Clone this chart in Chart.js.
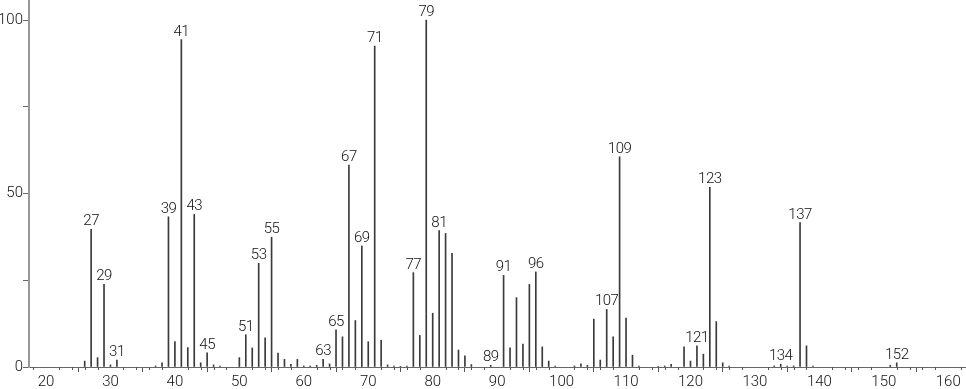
<!DOCTYPE html>
<html>
<head>
<meta charset="utf-8">
<script src="https://cdn.jsdelivr.net/npm/chart.js@4.4.0/dist/chart.umd.min.js"></script>
<style>
  html, body { margin: 0; padding: 0; background: #fff; }
  #wrap { width: 966px; height: 389px; }
</style>
</head>
<body>
<div id="wrap"><canvas id="spec" width="966" height="389"></canvas></div>
<script>
// m/z values and relative intensities
var mz = [26, 27, 28, 29, 30, 31, 37, 38, 39, 40, 41, 42, 43, 44, 45, 46, 47,
  50, 51, 52, 53, 54, 55, 56, 57, 58, 59, 60, 61, 62, 63, 64, 65, 66, 67, 68, 69,
  70, 71, 72, 73, 74, 75, 76, 77, 78, 79, 80, 81, 82, 83, 84, 85, 86, 89,
  91, 92, 93, 94, 95, 96, 97, 98, 99, 102, 103, 104, 105, 106, 107, 108, 109,
  110, 111, 112, 115, 116, 117, 119, 120, 121, 122, 123, 124, 125, 126,
  133, 134, 135, 136, 137, 138, 139, 151, 152];
var intensity = [1.7, 39.7, 2.7, 23.8, 0.6, 2.0, 0.3, 1.2, 43.3, 7.3, 94.4, 5.6, 44.0, 1.2, 4.1, 0.6, 0.3,
  2.7, 9.3, 5.5, 29.9, 8.4, 37.4, 4.0, 2.2, 0.8, 2.2, 0.3, 0.3, 0.5, 2.2, 0.9, 10.7, 8.7, 58.2, 13.4, 34.9,
  7.3, 92.5, 7.7, 0.6, 0.3, 0.2, 0.3, 27.2, 9.1, 100, 15.5, 39.3, 38.5, 32.8, 4.9, 3.2, 0.7, 0.5,
  26.4, 5.5, 20.0, 6.6, 23.8, 27.4, 5.8, 1.7, 0.3, 0.3, 0.9, 0.5, 13.8, 2.0, 16.6, 8.7, 60.6,
  14.1, 3.4, 0.3, 0.2, 0.3, 0.8, 5.8, 1.7, 6.1, 3.7, 51.8, 13.1, 1.2, 0.3,
  0.3, 0.8, 0.3, 0.3, 41.6, 6.1, 0.3, 0.5, 1.2];
// peaks that carry an m/z label
var labeled = [27, 29, 31, 39, 41, 43, 45, 51, 53, 55, 63, 65, 67, 69, 71, 77, 79, 81,
  89, 91, 96, 107, 109, 121, 123, 134, 137, 152];

var X_MIN = 17.36, X_MAX = 162.75;
var Y_MAX = 105.8;
var FONT = 'Roboto, "Noto Sans", sans-serif';

var points = [];
for( var i = 0; i < mz.length; i ++ ){
  points.push( { x: mz[i], y: intensity[i] } );
}

var peakLabels = {
  id: 'peakLabels',
  afterDatasetsDraw: function( chart ){
    var ctx = chart.ctx;
    var xs = chart.scales.x, ys = chart.scales.y;
    ctx.save();
    ctx.font = '300 15px ' + FONT;
    ctx.letterSpacing = '-0.5px';
    ctx.fillStyle = '#111';
    ctx.textAlign = 'center';
    ctx.textBaseline = 'alphabetic';
    labeled.forEach( function( m ){
      var idx = mz.indexOf( m );
      if( idx < 0 ) return;
      var px = xs.getPixelForValue( m );
      var py = ys.getPixelForValue( intensity[idx] );
      ctx.fillText( '' + m, px, py - 4 );
    });
    ctx.letterSpacing = '0px';
    // minor ticks every 2 units on the m/z axis
    ctx.strokeStyle = '#555';
    ctx.lineWidth = 1;
    ctx.beginPath();
    for( var v = 18; v <= 162; v += 2 ){
      if( v % 10 == 0 ) continue;
      var tx = Math.round( xs.getPixelForValue( v ) ) + 0.5;
      ctx.moveTo( tx, xs.top );
      ctx.lineTo( tx, xs.top + 3 );
    }
    ctx.stroke();
    ctx.restore();
  }
};

var chart = new Chart( document.getElementById( 'spec' ), {
  type: 'bar',
  data: {
    datasets: [{
      data: points,
      backgroundColor: '#3a3a3a',
      borderWidth: 0,
      barThickness: 1,
      grouped: false
    }]
  },
  options: {
    responsive: false,
    animation: false,
    events: [],
    layout: { padding: 0 },
    plugins: { legend: { display: false }, tooltip: { enabled: false } },
    scales: {
      x: {
        type: 'linear',
        min: X_MIN,
        max: X_MAX,
        offset: false,
        afterFit: function( s ){ s.height = 22; s.paddingLeft = 0; s.paddingRight = 0; },
        border: { display: true, color: '#666', width: 1 },
        grid: { display: true, drawOnChartArea: false, drawTicks: true, tickLength: 5, tickColor: '#555' },
        ticks: {
          stepSize: 10,
          includeBounds: false,
          autoSkip: false,
          maxRotation: 0,
          padding: 1,
          color: '#111',
          font: { family: FONT, size: 15, weight: 300 }
        }
      },
      y: {
        min: 0,
        max: Y_MAX,
        afterFit: function( s ){ s.width = 29; s.paddingTop = 0; s.paddingBottom = 0; },
        border: { display: true, color: '#999', width: 2 },
        grid: { display: true, drawOnChartArea: false, drawTicks: true, tickLength: 6, tickColor: '#666' },
        ticks: {
          stepSize: 25,
          includeBounds: false,
          padding: 0,
          color: '#111',
          font: { family: FONT, size: 15, weight: 300 },
          callback: function( v ){ return ( v % 50 == 0 ) ? '' + v : ''; }
        }
      }
    }
  },
  plugins: [ peakLabels ]
});
</script>
</body>
</html>
